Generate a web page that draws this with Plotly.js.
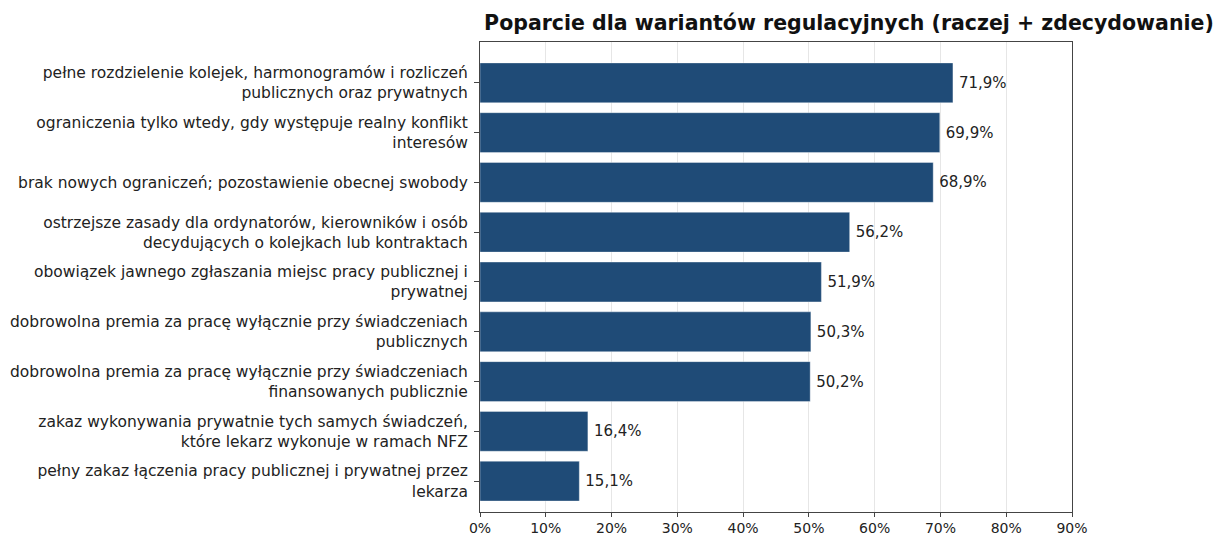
<!DOCTYPE html>
<html>
<head>
<meta charset="utf-8">
<script src="https://cdn.plot.ly/plotly-3.0.1.min.js"></script>
<style>
  html, body { margin: 0; padding: 0; background: #fff; }
  #chart { width: 1218px; height: 537px; }
</style>
</head>
<body>
<div id="chart"></div>
<script>
// options, top to bottom
var labels = [
    'pełne rozdzielenie kolejek, harmonogramów i rozliczeń<br>publicznych oraz prywatnych',
    'ograniczenia tylko wtedy, gdy występuje realny konflikt<br>interesów',
    'brak nowych ograniczeń; pozostawienie obecnej swobody',
    'ostrzejsze zasady dla ordynatorów, kierowników i osób<br>decydujących o kolejkach lub kontraktach',
    'obowiązek jawnego zgłaszania miejsc pracy publicznej i<br>prywatnej',
    'dobrowolna premia za pracę wyłącznie przy świadczeniach<br>publicznych',
    'dobrowolna premia za pracę wyłącznie przy świadczeniach<br>finansowanych publicznie',
    'zakaz wykonywania prywatnie tych samych świadczeń,<br>które lekarz wykonuje w ramach NFZ',
    'pełny zakaz łączenia pracy publicznej i prywatnej przez<br>lekarza'
];
var support = [71.9, 69.9, 68.9, 56.2, 51.9, 50.3, 50.2, 16.4, 15.1];
var xTicks = [0, 10, 20, 30, 40, 50, 60, 70, 80, 90];

var valueText = support.map(function(v) {
    return '\u2009' + v.toFixed(1).replace('.', ',') + '%';
});

var trace = {
    type: 'bar',
    orientation: 'h',
    x: support,
    y: labels,
    width: 0.8,
    text: valueText,
    textposition: 'outside',
    cliponaxis: false,
    textfont: { family: 'DejaVu Sans', size: 15, color: '#222' },
    marker: {
        color: '#1f4b77',
        line: { color: 'rgba(255,255,255,0.45)', width: 0.8 }
    },
    hoverinfo: 'skip'
};

var layout = {
    width: 1218,
    height: 537,
    margin: { l: 480, r: 146, t: 42, b: 25 },
    paper_bgcolor: '#fff',
    plot_bgcolor: '#fff',
    font: { family: 'DejaVu Sans', size: 15, color: '#222' },
    showlegend: false,
    title: {
        text: '<b>Poparcie dla wariantów regulacyjnych (raczej + zdecydowanie)</b>',
        font: { family: 'DejaVu Sans', size: 20.5, color: '#111' },
        xref: 'container', x: 0.697, xanchor: 'center',
        yref: 'container', y: 0.957, yanchor: 'middle'
    },
    xaxis: {
        range: [0, 90],
        tickvals: xTicks,
        ticktext: xTicks.map(function(t) { return t + '%'; }),
        showgrid: true,
        gridcolor: '#e6e6e6',
        gridwidth: 1,
        zeroline: false,
        showline: true,
        linecolor: '#444',
        linewidth: 1,
        mirror: true,
        ticks: 'outside',
        ticklen: 4,
        tickcolor: '#444',
        ticklabelstandoff: -1,
        tickfont: { size: 14, color: '#222' },
        fixedrange: true
    },
    yaxis: {
        type: 'category',
        range: [8.62, -0.82],
        showgrid: false,
        zeroline: false,
        showline: true,
        linecolor: '#444',
        linewidth: 1,
        mirror: true,
        ticks: 'outside',
        ticklen: 5,
        tickcolor: '#444',
        ticklabelstandoff: 3,
        tickfont: { size: 15.5, color: '#222' },
        fixedrange: true
    }
};

Plotly.newPlot('chart', [trace], layout, { displayModeBar: false, staticPlot: true });
</script>
</body>
</html>
